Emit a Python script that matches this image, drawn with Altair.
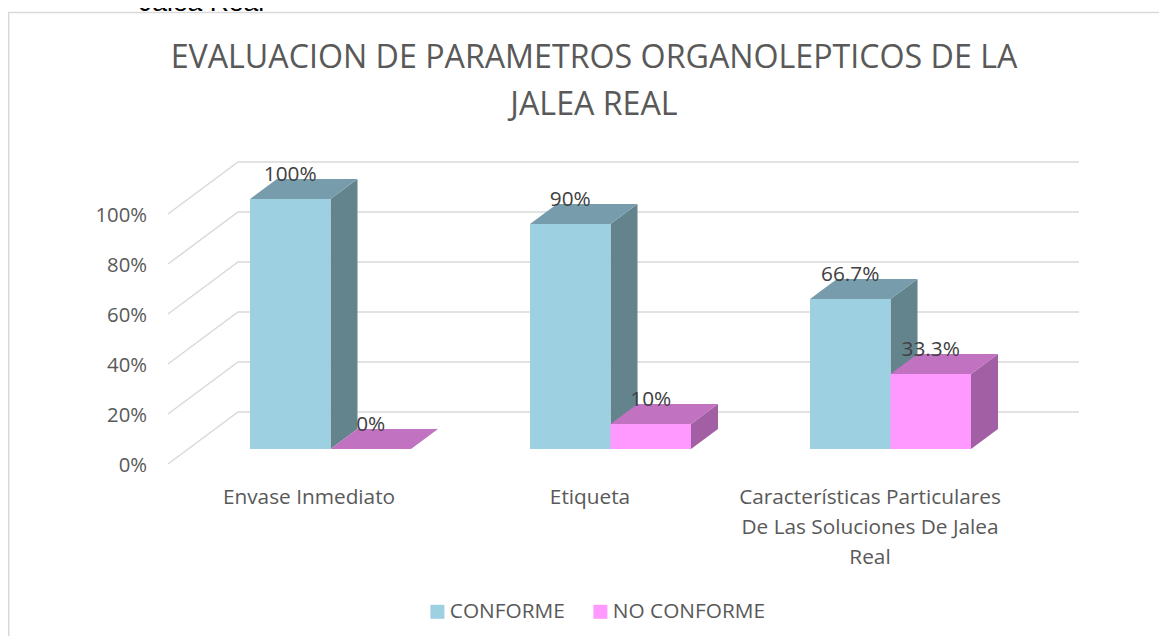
import altair as alt
import pandas as pd

categories = ["Envase Inmediato", "Etiqueta",
              "Características Particulares\nDe Las Soluciones De Jalea\nReal"]
series = ["CONFORME", "NO CONFORME"]
heights = {"CONFORME": [100, 90, 60], "NO CONFORME": [0, 10, 30]}
labels = {"CONFORME": ["100%", "90%", "66.7%"], "NO CONFORME": ["0%", "10%", "33.3%"]}
ticks = [0, 20, 40, 60, 80, 100]
tick_labels = ["0%", "20%", "40%", "60%", "80%", "100%"]
caption = "Jalea Real"

W, H = 1151, 628
FONT = "Open Sans"
front = {"CONFORME": "#9DD1E2", "NO CONFORME": "#FF99FF"}
top = {"CONFORME": "#779DAC", "NO CONFORME": "#C172C1"}
side = {"CONFORME": "#63838D", "NO CONFORME": "#A35FA3"}

# projection constants of the pseudo-3D view (x in px, depth in value units)
GROUP_START, GROUP_STEP, BAR_W, DEPTH_X, DEPTH_V = 242, 280, 80.5, 27, 8
WALL_X0, WALL_X1, WALL_X2, WALL_FRONT, WALL_BACK = 160, 230, 1071, -6, 14.8

X = alt.Scale(domain=[0, W], range=[0, W], nice=False, zero=False)
Y = alt.Scale(domain=[-74.8, 176.4], range=[H, 0], nice=False, zero=False)

rows_front, rows_side, rows_top, rows_label = [], [], [], []
for s_i, s in enumerate(series):
    for c_i, v in enumerate(heights[s]):
        x0 = GROUP_START + c_i * GROUP_STEP + s_i * BAR_W
        bar = f"{s}-{c_i}"
        rows_front.append(dict(series=s, x=x0, x2=x0 + BAR_W, y=0, y2=v))
        rows_side += [dict(series=s, bar=bar, x=x0 + BAR_W, y=0, y2=v),
                      dict(series=s, bar=bar, x=x0 + BAR_W + DEPTH_X, y=DEPTH_V, y2=v + DEPTH_V)]
        rows_top += [dict(series=s, bar=bar, x=x0, y=v, y2=v),
                     dict(series=s, bar=bar, x=x0 + DEPTH_X, y=v, y2=v + DEPTH_V),
                     dict(series=s, bar=bar, x=x0 + BAR_W, y=v, y2=v + DEPTH_V),
                     dict(series=s, bar=bar, x=x0 + BAR_W + DEPTH_X, y=v + DEPTH_V, y2=v + DEPTH_V)]
        rows_label.append(dict(x=x0 + BAR_W / 2, y=v + 9.7, text=labels[s][c_i]))

df_front = pd.DataFrame(rows_front)
df_side = pd.DataFrame(rows_side)
df_top = pd.DataFrame(rows_top)
df_label = pd.DataFrame(rows_label)

df_grid = pd.DataFrame(
    [dict(level=t, x=WALL_X0, y=t + WALL_FRONT) for t in ticks]
    + [dict(level=t, x=WALL_X1, y=t + WALL_BACK) for t in ticks]
    + [dict(level=t, x=WALL_X2, y=t + WALL_BACK) for t in ticks]
)
df_ticks = pd.DataFrame({"x": 139, "y": [t - 6.8 for t in ticks], "text": tick_labels})
df_cats = pd.DataFrame({"x": [301, 582, 862], "y": -15.5, "text": categories})

grid = alt.Chart(df_grid).mark_line(color="#D9D9D9", strokeWidth=1.5).encode(
    x=alt.X("x:Q", scale=X, axis=None), y=alt.Y("y:Q", scale=Y, axis=None),
    detail="level:N", order="x:Q")


def area(df, s, colors):
    return alt.Chart(df[df["series"] == s]).mark_area(
        fill=colors[s], orient="vertical", line=False, opacity=1).encode(
        x=alt.X("x:Q", scale=X, axis=None),
        y=alt.Y("y:Q", scale=Y, axis=None),
        y2=alt.Y2("y2:Q"), detail="bar:N")


fronts = alt.Chart(df_front).mark_rect().encode(
    x=alt.X("x:Q", scale=X, axis=None), x2="x2:Q",
    y=alt.Y("y:Q", scale=Y, axis=None), y2="y2:Q",
    color=alt.Color("series:N",
                    scale=alt.Scale(domain=series, range=[front[s] for s in series]),
                    legend=alt.Legend(orient="none", legendX=419, legendY=593, direction="horizontal",
                                      title=None, symbolType="square", symbolSize=196,
                                      symbolStrokeWidth=0, labelFont=FONT, labelFontSize=20.8,
                                      labelColor="#595959", columnPadding=25, labelOffset=2)))


def text(df, color, size, **kw):
    return alt.Chart(df).mark_text(font=FONT, fontSize=size, color=color, lineBreak="\n", **kw).encode(
        x=alt.X("x:Q", scale=X, axis=None), y=alt.Y("y:Q", scale=Y, axis=None), text="text:N")


tick_text = text(df_ticks, "#595959", 20.3, align="right", baseline="middle")
cat_text = text(df_cats, "#595959", 20.8, align="center", baseline="top", lineHeight=30)
val_text = text(df_label, "#404040", 20.8, align="center", baseline="middle")

frame_top = alt.Chart(pd.DataFrame({"k": [0]})).mark_rule(color="#D9D9D9", strokeWidth=1.5).encode(
    x=alt.value(0), x2=alt.value(W), y=alt.value(4.5))
frame_left = alt.Chart(pd.DataFrame({"k": [0]})).mark_rule(color="#D9D9D9", strokeWidth=1.5).encode(
    x=alt.value(0.75), y=alt.value(4.5), y2=alt.value(H))
# the caption above the chart is cut by the top edge in the source as well
cap = alt.Chart(pd.DataFrame({"text": [caption]})).mark_text(
    font="Liberation Sans", fontSize=26.5, color="#000000", align="left", baseline="alphabetic").encode(
    x=alt.value(131), y=alt.value(3), text="text:N")

chart = alt.layer(
    frame_top, frame_left, grid,
    area(df_side, "CONFORME", side), area(df_top, "CONFORME", top),
    area(df_side, "NO CONFORME", side), area(df_top, "NO CONFORME", top),
    fronts, tick_text, cat_text, val_text, cap,
).properties(
    width=W, height=H, padding=0,
    autosize=alt.AutoSizeParams(type="none"),
    title=alt.TitleParams(
        text=["EVALUACION DE PARAMETROS ORGANOLEPTICOS DE LA", "JALEA REAL"],
        font=FONT, fontSize=32.2, fontWeight="normal", color="#595959",
        anchor="middle", frame="group", baseline="top", lineHeight=47, dx=10.5, dy=132, offset=0),
).configure_view(stroke=None)

chart.save("out.html", embed_options={"renderer": "svg", "actions": False})
